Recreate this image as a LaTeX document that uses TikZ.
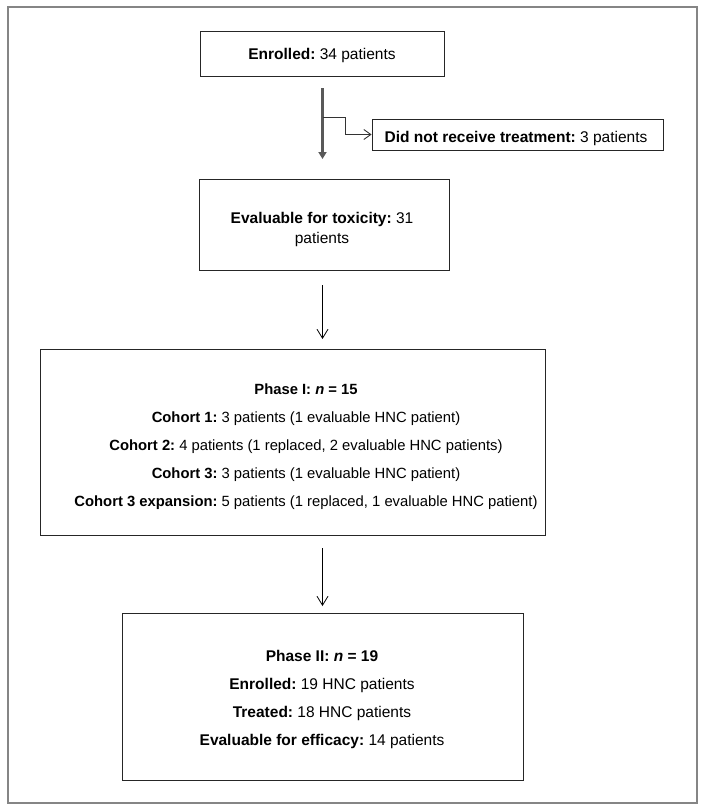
\documentclass[tikz,border=0pt]{standalone}
\usepackage{fontspec}
\setmainfont{Liberation Sans}
\usetikzlibrary{arrows.meta}
\frenchspacing
\begin{document}
\begin{tikzpicture}[x=1bp,y=-1bp,
  box/.style={draw=black!85,line width=0.9bp,inner sep=0pt},
  txt/.style={align=center,inner sep=0pt,font=\fontsize{15.5bp}{28bp}\selectfont},
  thinarrow/.style={draw=black,line width=0.8bp,-{Straight Barb[length=9bp,width=11bp]}},
  thickarrow/.style={draw=black!65,line width=2.4bp,-{Triangle[length=7bp,width=8bp]}},
  brancharrow/.style={draw=black!80,line width=0.9bp,-{Straight Barb[length=7bp,width=10bp]}}]
\useasboundingbox (0,0) rectangle (704,810);
\draw[draw=black!48,line width=2bp] (7.5,7.5) rectangle (696.5,803);
\node[box,minimum width=244bp,minimum height=45bp] (enr) at (322,53.5) {};
\node[txt] (enrT) at (322,55.5) {\textbf{Enrolled:} 34 patients};
\node[box,minimum width=291bp,minimum height=31bp] (dnr) at (517.5,134.5) {};
\node[txt] (dnrT) at (516,138.5) {\textbf{Did not receive treatment:} 3 patients};
\node[box,minimum width=250bp,minimum height=91bp] (tox) at (324,224.5) {};
\node[txt,font=\fontsize{15.5bp}{20bp}\selectfont] (toxT) at (322,229.5) {\textbf{Evaluable for toxicity:} 31\\patients};
\node[box,minimum width=505bp,minimum height=186bp] (ph1) at (292.5,442) {};
\node[txt,font=\fontsize{14.8bp}{28bp}\selectfont] (ph1T) at (306,446.5) {\textbf{Phase I: \textit{n} = 15}\\
\textbf{Cohort 1:} 3 patients (1 evaluable HNC patient)\\
\textbf{Cohort 2:} 4 patients (1 replaced, 2 evaluable HNC patients)\\
\textbf{Cohort 3:} 3 patients (1 evaluable HNC patient)\\
\textbf{Cohort 3 expansion:} 5 patients (1 replaced, 1 evaluable HNC patient)};
\node[box,minimum width=401bp,minimum height=167bp] (ph2) at (322.5,696.5) {};
\node[txt] (ph2T) at (322,699.5) {\textbf{Phase II: \textit{n} = 19}\\
\textbf{Enrolled:} 19 HNC patients\\
\textbf{Treated:} 18 HNC patients\\
\textbf{Evaluable for efficacy:} 14 patients};
\coordinate (a1s) at (322.5,88);
\coordinate (a1e) at (322.5,159);
\coordinate (br) at (322.5,117);
\draw[thickarrow] (a1s) -- (a1e);
\draw[brancharrow] (br) -- (345.5,117) -- (345.5,134.5) -- (dnr.west);
\coordinate (a2s) at (322.5,285);
\coordinate (a2e) at (322.5,339);
\draw[thinarrow] (a2s) -- (a2e);
\coordinate (a3s) at (322.5,548);
\coordinate (a3e) at (322.5,606);
\draw[thinarrow] (a3s) -- (a3e);
\end{tikzpicture}
\end{document}
